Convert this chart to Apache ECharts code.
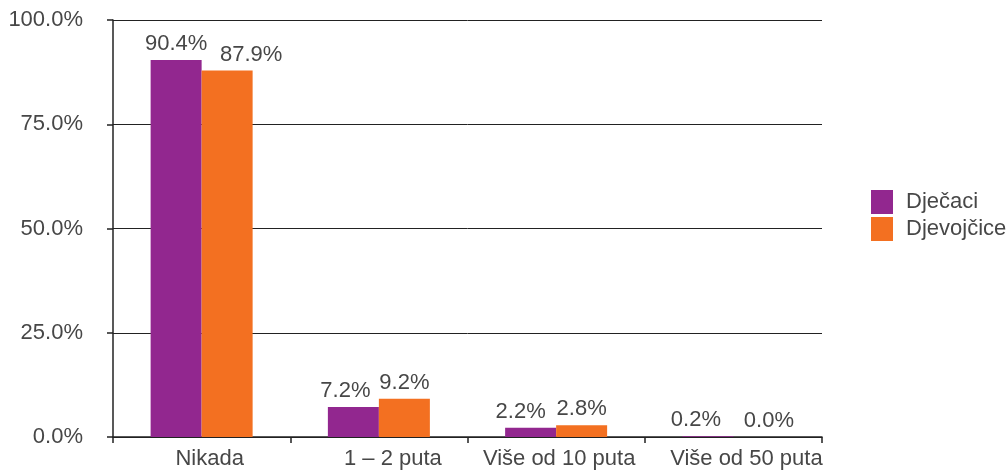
<!DOCTYPE html>
<html>
<head>
<meta charset="utf-8">
<script src="https://cdn.jsdelivr.net/npm/echarts@6/dist/echarts.min.js"></script>
<style>
  html, body { margin: 0; padding: 0; background: #fff; }
  #chart { width: 1008px; height: 476px; }
</style>
</head>
<body>
<div id="chart"></div>
<script>
// kategorije i vrijednosti (%)
const categories = ['Nikada', '1 – 2 puta', 'Više od 10 puta', 'Više od 50 puta'];
const djecaci = [90.4, 7.2, 2.2, 0.2];
const djevojcice = [87.9, 9.2, 2.8, 0.0];
const seriesNames = ['Dječaci', 'Djevojčice'];

// pomaci natpisa (kao u Excelu, da se ne preklapaju)
const boysLabelShift = [0, -8, -10, -12];
const girlsLabelShift = [24, 0, 0, 10];
const catLabelShift = [8, 14, 3, 13];

const FONT = 'Liberation Sans';
const textColor = '#474747';

const chart = echarts.init(document.getElementById('chart'));

const labelStyle = {
    show: true,
    position: 'top',
    distance: 5,
    color: textColor,
    fontFamily: FONT,
    fontSize: 22,
    formatter: p => p.value.toFixed(1) + '%'
};

const withShift = (vals, shifts) => vals.map((v, i) => ({
    value: v,
    label: { offset: [shifts[i], 0] }
}));

const rich = {};
catLabelShift.forEach((s, i) => {
    rich['c' + i] = {
        color: textColor, fontFamily: FONT, fontSize: 22,
        padding: s >= 0 ? [0, 0, 0, 2 * s] : [0, -2 * s, 0, 0]
    };
});

const option = {
    backgroundColor: '#fff',
    animation: false,
    color: ['#92278f', '#f37021'],
    grid: { left: 113, right: 186, top: 20, bottom: 39 },
    legend: {
        orient: 'vertical',
        left: 871,
        top: 190,
        padding: 0,
        itemWidth: 22,
        itemHeight: 24,
        itemGap: 3,
        icon: 'rect',
        textStyle: { color: textColor, fontFamily: FONT, fontSize: 22, padding: [0, 0, 0, 8] },
        data: seriesNames
    },
    xAxis: {
        type: 'category',
        data: categories,
        axisLine: { lineStyle: { color: '#222', width: 1.5 } },
        axisTick: { show: true, length: 6, lineStyle: { color: '#222', width: 1.5 } },
        axisLabel: {
            interval: 0, color: textColor, fontFamily: FONT, fontSize: 22, margin: 11,
            formatter: (v, i) => '{c' + i + '|' + v + '}',
            rich: rich
        }
    },
    yAxis: {
        type: 'value',
        min: 0,
        max: 100,
        interval: 25,
        axisLine: { show: true, lineStyle: { color: '#222', width: 1.5 } },
        axisTick: { show: true, length: 6, lineStyle: { color: '#222', width: 1.5 } },
        axisLabel: {
            color: textColor, fontFamily: FONT, fontSize: 22, margin: 30,
            formatter: v => v.toFixed(1) + '%'
        },
        splitLine: { lineStyle: { color: '#222', width: 1 } }
    },
    series: [
        {
            name: seriesNames[0],
            type: 'bar',
            data: withShift(djecaci, boysLabelShift),
            barWidth: 51,
            barGap: '0%',
            label: labelStyle
        },
        {
            name: seriesNames[1],
            type: 'bar',
            data: withShift(djevojcice, girlsLabelShift),
            barWidth: 51,
            barGap: '0%',
            label: labelStyle
        }
    ]
};

chart.setOption(option);
</script>
</body>
</html>
